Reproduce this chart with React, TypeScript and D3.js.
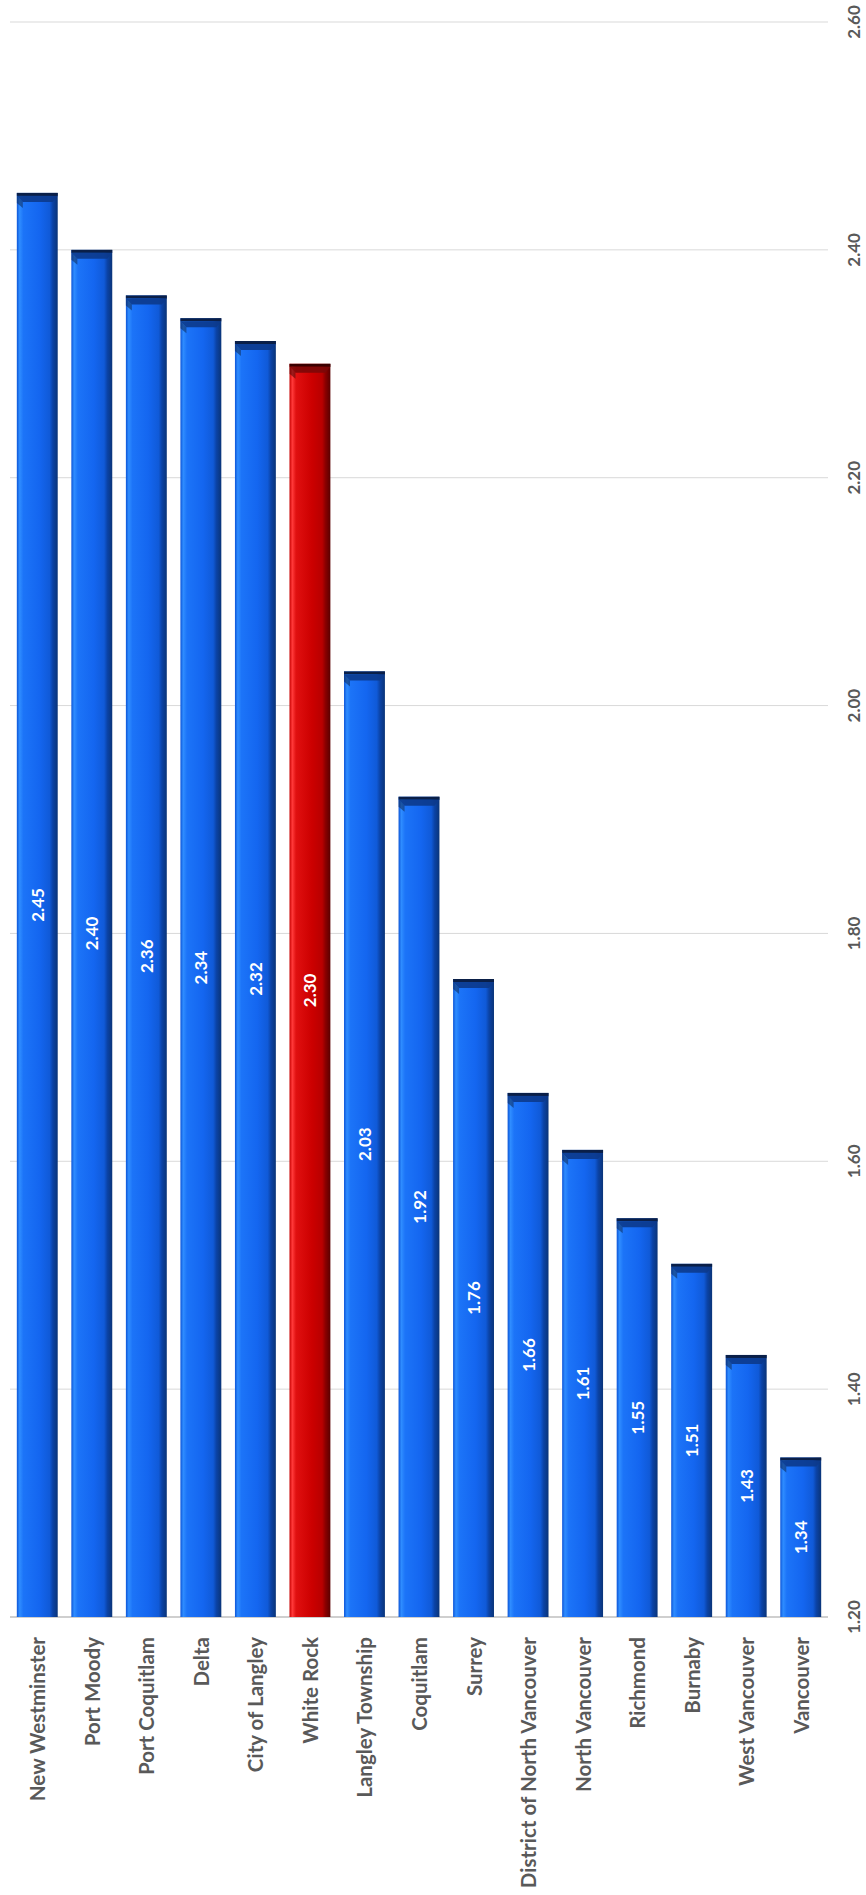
import React from "react";
import * as d3 from "d3";

const categories = [
  "New Westminster",
  "Port Moody",
  "Port Coquitlam",
  "Delta",
  "City of Langley",
  "White Rock",
  "Langley Township",
  "Coquitlam",
  "Surrey",
  "District of North Vancouver",
  "North Vancouver",
  "Richmond",
  "Burnaby",
  "West Vancouver",
  "Vancouver",
];
const values = [2.45, 2.4, 2.36, 2.34, 2.32, 2.3, 2.03, 1.92, 1.76, 1.66, 1.61, 1.55, 1.51, 1.43, 1.34];
const highlighted = ["White Rock"];
const tickValues = [1.2, 1.4, 1.6, 1.8, 2.0, 2.2, 2.4, 2.6];

const W = 866;
const H = 1895;
const FONT = "Lato, 'Open Sans', sans-serif";

export default function App() {
  const y = d3.scaleLinear().domain([1.2, 2.6]).range([1617, 22]);
  const x = d3
    .scaleBand<string>()
    .domain(categories)
    .range([10, 828])
    .paddingInner(0.25)
    .paddingOuter(0.125);
  const bw = x.bandwidth();
  const fmt = d3.format(".2f");

  return (
    <svg
      width={W}
      height={H}
      style={{ position: "absolute", left: 0, top: 0, background: "#fff" }}
      xmlns="http://www.w3.org/2000/svg"
    >
      <defs>
        <linearGradient id="blueBody" x1="0" x2="1" y1="0" y2="0">
          <stop offset="0%" stopColor="#0c55d8" />
          <stop offset="7%" stopColor="#2f8dff" />
          <stop offset="16%" stopColor="#1c74f8" />
          <stop offset="55%" stopColor="#1466f0" />
          <stop offset="80%" stopColor="#105ad8" />
          <stop offset="88%" stopColor="#0b43a6" />
          <stop offset="100%" stopColor="#0a3478" />
        </linearGradient>
        <linearGradient id="redBody" x1="0" x2="1" y1="0" y2="0">
          <stop offset="0%" stopColor="#c80000" />
          <stop offset="7%" stopColor="#ff3a3a" />
          <stop offset="16%" stopColor="#e01010" />
          <stop offset="55%" stopColor="#cc0000" />
          <stop offset="80%" stopColor="#b80000" />
          <stop offset="88%" stopColor="#8a0000" />
          <stop offset="100%" stopColor="#5a0000" />
        </linearGradient>
      </defs>

      {/* gridlines */}
      <g>
        {tickValues.map((t) => (
          <line
            key={t}
            x1={10}
            x2={828}
            y1={y(t)}
            y2={y(t)}
            stroke={t === 1.2 ? "#bfbfbf" : "#d9d9d9"}
            strokeWidth={t === 1.2 ? 1.5 : 1}
          />
        ))}
      </g>

      {/* bars */}
      <g>
        {categories.map((c, i) => {
          const x0 = x(c)!;
          const top = y(values[i]);
          const base = y(1.2);
          const red = highlighted.includes(c);
          const capCol = red ? "#3a0000" : "#0a1f48";
          const bevelCol = red ? "#7a0808" : "#0c3a8c";
          return (
            <g key={c}>
              <rect
                x={x0}
                y={top}
                width={bw}
                height={base - top}
                fill={red ? "url(#redBody)" : "url(#blueBody)"}
              />
              <rect x={x0} y={top} width={bw} height={3} fill={capCol} />
              <polygon
                points={`${x0},${top + 3} ${x0 + bw},${top + 3} ${x0 + bw - 5},${top + 9} ${x0 + 6},${top + 9}`}
                fill={bevelCol}
                opacity={0.9}
              />
              <polygon
                points={`${x0},${top + 3} ${x0 + 6},${top + 9} ${x0 + 6},${top + 15} ${x0},${top + 10}`}
                fill={capCol}
                opacity={0.5}
              />
              <text
                transform={`translate(${x0 + bw / 2},${(top + base) / 2}) rotate(-90)`}
                textAnchor="middle"
                dominantBaseline="central"
                fill="#ffffff"
                fontFamily={FONT}
                fontWeight={700}
                fontSize={17}
              >
                {fmt(values[i])}
              </text>
            </g>
          );
        })}
      </g>

      {/* category labels */}
      <g>
        {categories.map((c) => (
          <text
            key={c}
            transform={`translate(${x(c)! + bw / 2},1637) rotate(-90)`}
            textAnchor="end"
            dominantBaseline="central"
            fill="#595959"
            fontFamily={FONT}
            fontWeight={700}
            fontSize={20.5}
          >
            {c}
          </text>
        ))}
      </g>

      {/* value axis tick labels */}
      <g>
        {tickValues.map((t) => (
          <text
            key={t}
            transform={`translate(853,${y(t)}) rotate(-90)`}
            textAnchor="middle"
            dominantBaseline="central"
            fill="#595959"
            fontFamily={FONT}
            fontWeight={700}
            fontSize={17}
          >
            {fmt(t)}
          </text>
        ))}
      </g>
    </svg>
  );
}
